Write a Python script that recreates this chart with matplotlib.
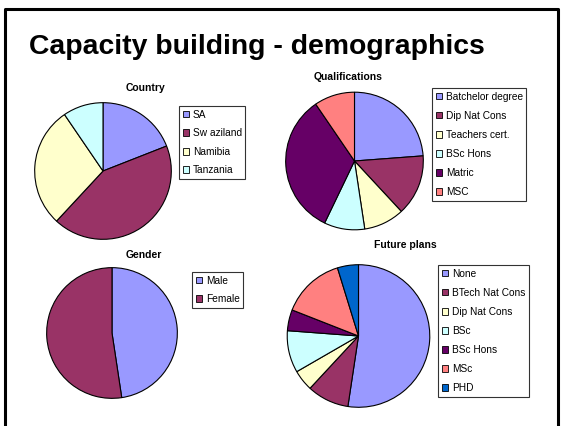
import matplotlib
matplotlib.use("Agg")
from matplotlib import pyplot as plt
from matplotlib.patches import Patch
from matplotlib.lines import Line2D

plt.rcParams['font.family'] = ['Liberation Sans', 'DejaVu Sans']

W, H = 565, 426

# palette (old office chart defaults)
colors = ['#9999FF', '#993366', '#FFFFCC', '#CCFFFF', '#660066', '#FF8080', '#0066CC']

country_labels = ['SA', 'Sw aziland', 'Namibia', 'Tanzania']
country_values = [4, 9, 6, 2]

qual_labels = ['Batchelor degree', 'Dip Nat Cons', 'Teachers cert.', 'BSc Hons', 'Matric', 'MSC']
qual_values = [5, 3, 2, 2, 7, 2]

gender_labels = ['Male', 'Female']
gender_values = [10, 11]

plans_labels = ['None', 'BTech Nat Cons', 'Dip Nat Cons', 'BSc', 'BSc Hons', 'MSc', 'PHD']
plans_values = [11, 2, 1, 2, 1, 3, 1]


def pie(fig, values, labels, title, cx, cy, r, title_xy, leg_xy, spacing):
    # cx, cy, r in pixels (y from top)
    ax = fig.add_axes([(cx - r) / W, 1 - (cy + r) / H, 2 * r / W, 2 * r / H])
    cols = colors[:len(values)]
    ax.pie(values, colors=cols, startangle=90, counterclock=False, radius=1,
           wedgeprops=dict(edgecolor='black', linewidth=0.8))
    ax.set_xlim(-1.01, 1.01)
    ax.set_ylim(-1.01, 1.01)
    ax.set_aspect('auto')
    ax.axis('off')
    fig.text(title_xy[0] / W, 1 - title_xy[1] / H, title, ha='center', va='center',
             fontsize=7.5, fontweight='bold')
    handles = [Patch(facecolor=c, edgecolor='black', linewidth=0.6) for c in cols]
    leg = fig.legend(handles, labels, loc='upper left',
                     bbox_to_anchor=(leg_xy[0] / W, 1 - leg_xy[1] / H),
                     fontsize=7.3, frameon=True, fancybox=False, shadow=False,
                     borderaxespad=0, handlelength=0.65, handleheight=0.65,
                     handletextpad=0.35, labelspacing=spacing, borderpad=0.35)
    leg.get_frame().set_edgecolor('black')
    leg.get_frame().set_linewidth(0.8)


fig = plt.figure(figsize=(W / 100, H / 100), dpi=100)

# slide frame
fig.add_artist(Line2D([5 / W, 5 / W, 558 / W, 558 / W], [0, 1 - 9 / H, 1 - 9 / H, 0],
                      color='black', linewidth=2.2))

fig.text(257 / W, 1 - 47 / H, 'Capacity building - demographics', ha='center', va='center',
         fontsize=20.4, fontweight='bold')

pie(fig, country_values, country_labels, 'Country', 103, 171, 69, (146, 88), (179, 106), 0.85)
pie(fig, qual_values, qual_labels, 'Qualifications', 354.5, 161, 69.5, (348, 77), (432, 88), 0.9)
pie(fig, gender_values, gender_labels, 'Gender', 112, 333, 66, (144, 255), (192, 272), 0.85)
pie(fig, plans_values, plans_labels, 'Future plans', 358.5, 336, 72, (405, 245), (438, 265), 0.9)

plt.savefig('out.png', dpi=100)
